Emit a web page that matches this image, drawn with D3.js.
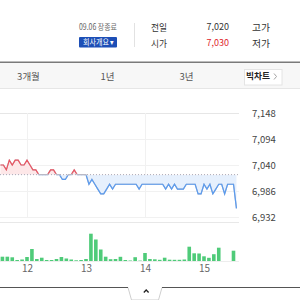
<!DOCTYPE html>
<html>
<head>
<meta charset="utf-8">
<script src="https://cdn.jsdelivr.net/npm/d3@7"></script>
<style>
  html, body { margin: 0; padding: 0; background: #fff; }
  svg { display: block; font-family: "Noto Sans CJK KR", "Noto Sans", sans-serif; }
</style>
</head>
<body>
<svg id="chart" width="300" height="300"></svg>
<script>
// ---------- data ----------
const prevClose = 7020;
const infoLabels = ["전일", "시가"];
const infoValues = ["7,020", "7,030"];
const infoLabels2 = ["고가", "저가"];
const periodTabs = ["3개월", "1년", "3년"];
const priceTicks = [6932, 6986, 7040, 7094, 7148];
// 3-minute price line, 11:33 ~ 15:33
const linePrices = [
  7040, 7040, 7030, 7050, 7040, 7050, 7050, 7040, 7040, 7050,
  7040, 7030, 7030, 7020, 7020, 7020, 7020, 7030, 7030, 7020,
  7020, 7010, 7010, 7020, 7020, 7030, 7020, 7020, 7020, 7020,
  7000, 7010, 7000, 6990, 6980, 6980, 6990, 7000, 6990, 7000,
  7000, 7000, 7000, 7000, 7000, 7000, 7000, 6990, 7000, 7000,
  7000, 7000, 7000, 7000, 7000, 7000, 6990, 7000, 6990, 7000,
  6990, 6990, 6990, 7000, 7000, 7000, 7000, 6980, 6980, 7000,
  6990, 7000, 6980, 6990, 7000, 7000, 6980, 7000, 7000, 7000,
  6950
];
// 5-minute volume, 11:35 ~ 15:30
const volumes = [
  4300, 4300, 3700, 1000, 1500, 4000, 12000, 2000, 3300, 1000,
  1000, 2000, 4000, 2500, 1500, 700, 1000, 2000, 27300, 21500,
  11500, 4300, 1800, 2000, 4200, 1000, 500, 3800, 400, 8000,
  2000, 1700, 1200, 3300, 1300, 1200, 1200, 1500, 14300, 7700,
  7500, 4700, 3200, 6800, 13300, 0, 0, 10300
];

// ---------- scales ----------
const day = (h, m) => new Date(2023, 8, 15, h, m);
const lineTimes = d3.timeMinute.every(3).range(day(11, 33), day(15, 34));
const barTimes = d3.timeMinute.every(5).range(day(11, 35), day(15, 31));
const lineData = linePrices.map((v, i) => ({ t: lineTimes[i], v }));
const barData = volumes.map((v, i) => ({ t: barTimes[i], v }));

const plotRight = 239;
const x = d3.scaleTime().domain([day(11, 33), day(15, 33)]).range([0.45, 236.45]);
const y = d3.scaleLinear().domain([6932, 7148]).range([217, 113]);
const yVol = d3.scaleLinear().domain([0, 39000]).range([261, 222]);

const svg = d3.select("#chart");

// ---------- header ----------
svg.append("text").attr("x", 79).attr("y", 27).attr("dy", "0.35em")
  .attr("font-size", 8.5).attr("fill", "#666")
  .attr("textLength", 38).attr("lengthAdjust", "spacingAndGlyphs")
  .text("09.06 장종료");
svg.append("rect").attr("x", 79).attr("y", 37).attr("width", 38).attr("height", 10.5)
  .attr("fill", "#1d4fb6").attr("rx", 1);
svg.append("text").attr("x", 83).attr("y", 42.3).attr("dy", "0.35em")
  .attr("font-size", 8).attr("fill", "#fff")
  .attr("textLength", 31).attr("lengthAdjust", "spacingAndGlyphs")
  .text("회사개요 ▾");
svg.append("line").attr("x1", 134.5).attr("x2", 134.5).attr("y1", 23).attr("y2", 47)
  .attr("stroke", "#e2e2e2");

const rowsY = [27.5, 43.5];
infoLabels.forEach((t, i) => {
  svg.append("text").attr("x", 151).attr("y", rowsY[i]).attr("dy", "0.35em")
    .attr("font-size", 9.5).attr("fill", "#333")
    .attr("textLength", 16).attr("lengthAdjust", "spacingAndGlyphs").text(t);
  svg.append("text").attr("x", 229).attr("y", rowsY[i] - 0.5).attr("dy", "0.35em")
    .attr("font-size", 9).attr("fill", i === 1 ? "#e0242c" : "#333")
    .attr("text-anchor", "end").text(infoValues[i]);
  svg.append("text").attr("x", 252).attr("y", rowsY[i]).attr("dy", "0.35em")
    .attr("font-size", 9.5).attr("fill", "#333")
    .attr("textLength", 18).attr("lengthAdjust", "spacingAndGlyphs").text(infoLabels2[i]);
});

// ---------- tab row ----------
svg.append("rect").attr("x", 0).attr("y", 61.5).attr("width", 300).attr("height", 1.5).attr("fill", "#7a7a7a");
svg.append("rect").attr("x", 0).attr("y", 63).attr("width", 300).attr("height", 25.5).attr("fill", "#f7f7f7");
svg.append("line").attr("x1", 0).attr("x2", 300).attr("y1", 88.5).attr("y2", 88.5).attr("stroke", "#e6e6e6");
const tabX = [28.5, 107.5, 186.5];
periodTabs.forEach((t, i) => {
  svg.append("text").attr("x", tabX[i]).attr("y", 77).attr("dy", "0.35em")
    .attr("text-anchor", "middle").attr("font-size", 9.5).attr("fill", "#555").text(t);
});
svg.append("rect").attr("x", 244.5).attr("y", 69.5).attr("width", 37.5).attr("height", 15.5)
  .attr("fill", "#fff").attr("stroke", "#e4e4e4");
svg.append("text").attr("x", 246).attr("y", 76.5).attr("dy", "0.35em")
  .attr("font-size", 8.5).attr("fill", "#222").attr("font-weight", "bold")
  .attr("textLength", 24).attr("lengthAdjust", "spacingAndGlyphs").text("빅차트");
svg.append("path").attr("d", "M274,73.5 L276.5,76.5 L274,79.5")
  .attr("fill", "none").attr("stroke", "#999").attr("stroke-width", 0.9);

// ---------- price panel ----------
const gGrid = svg.append("g");
priceTicks.forEach((t, i) => {
  gGrid.append("line").attr("x1", 0).attr("x2", plotRight)
    .attr("y1", Math.round(y(t)) + 0.5).attr("y2", Math.round(y(t)) + 0.5)
    .attr("stroke", i === priceTicks.length - 1 ? "#e6e6e6" : "#f1f1f1");
});
x.ticks(d3.timeHour.every(2)).forEach(t => {
  gGrid.append("line").attr("x1", Math.round(x(t)) + 0.5).attr("x2", Math.round(x(t)) + 0.5)
    .attr("y1", y(7148)).attr("y2", y(6932)).attr("stroke", "#f1f1f1");
});

const base = y(prevClose);
const defs = svg.append("defs");
defs.append("clipPath").attr("id", "clipUp").append("rect")
  .attr("x", 0).attr("y", 0).attr("width", 300).attr("height", base);
defs.append("clipPath").attr("id", "clipDown").append("rect")
  .attr("x", 0).attr("y", base).attr("width", 300).attr("height", 300 - base);
defs.append("clipPath").attr("id", "clipUpLine").append("rect")
  .attr("x", 0).attr("y", 0).attr("width", 300).attr("height", base - 0.9);
defs.append("clipPath").attr("id", "clipDownLine").append("rect")
  .attr("x", 0).attr("y", base + 0.9).attr("width", 300).attr("height", 300 - base);

const area = d3.area().x(d => x(d.t)).y0(base).y1(d => y(d.v));
const line = d3.line().x(d => x(d.t)).y(d => y(d.v));

svg.append("path").datum(lineData).attr("d", area).attr("fill", "#fde7e8").attr("clip-path", "url(#clipUp)");
svg.append("path").datum(lineData).attr("d", area).attr("fill", "#e6f0fd").attr("clip-path", "url(#clipDown)");

svg.append("line").attr("x1", 0).attr("x2", plotRight).attr("y1", base).attr("y2", base)
  .attr("stroke", "#a8a8b4").attr("stroke-width", 1).attr("stroke-dasharray", "1,2");

svg.append("path").datum(lineData).attr("d", line).attr("fill", "none")
  .attr("stroke", "#b9b9c6").attr("stroke-width", 1.2);
svg.append("path").datum(lineData).attr("d", line).attr("fill", "none")
  .attr("stroke", "#ec5561").attr("stroke-width", 1.2).attr("clip-path", "url(#clipUpLine)");
svg.append("path").datum(lineData).attr("d", line).attr("fill", "none")
  .attr("stroke", "#5a9cf0").attr("stroke-width", 1.2).attr("clip-path", "url(#clipDownLine)");

// price axis labels
const yAxis = d3.axisRight(y).tickValues(priceTicks).tickFormat(d3.format(",")).tickSize(0).tickPadding(0);
const gy = svg.append("g").attr("transform", "translate(252,0)").call(yAxis);
gy.select(".domain").remove();
gy.selectAll("text").attr("font-size", 9.5).attr("fill", "#444")
  .attr("font-family", "\"Noto Sans CJK KR\", sans-serif");

// ---------- volume panel ----------
svg.append("line").attr("x1", 0).attr("x2", plotRight).attr("y1", 222.5).attr("y2", 222.5).attr("stroke", "#e8e8e8");
svg.append("line").attr("x1", 0).attr("x2", plotRight).attr("y1", 261.5).attr("y2", 261.5).attr("stroke", "#ededed");
svg.append("g").selectAll("rect").data(barData.filter(d => d.v > 0)).join("rect")
  .attr("x", d => x(d.t) - 1.8).attr("width", 3.6)
  .attr("y", d => yVol(d.v)).attr("height", d => yVol(0) - yVol(d.v))
  .attr("fill", "#4fcb79");

const xAxis = d3.axisBottom(x).ticks(d3.timeHour.every(1)).tickFormat(d3.timeFormat("%-H"))
  .tickSize(0).tickPadding(3);
const gx = svg.append("g").attr("transform", "translate(0,262)").call(xAxis);
gx.select(".domain").remove();
gx.selectAll("text").attr("font-size", 10).attr("fill", "#666")
  .attr("font-family", "\"Noto Sans CJK KR\", sans-serif");

// ---------- bottom handle ----------
svg.append("path").attr("d", "M128,287.5 L131.5,300 L158.5,300 L162,287.5")
  .attr("fill", "#fff").attr("stroke", "#cfcfcf");
svg.append("line").attr("x1", 0).attr("x2", 128).attr("y1", 287.5).attr("y2", 287.5).attr("stroke", "#555");
svg.append("line").attr("x1", 162).attr("x2", 300).attr("y1", 287.5).attr("y2", 287.5).attr("stroke", "#555");
svg.append("path").attr("d", "M143.8,292.5 L146.2,290 L148.6,292.5")
  .attr("fill", "none").attr("stroke", "#222").attr("stroke-width", 1.3);
</script>
</body>
</html>
